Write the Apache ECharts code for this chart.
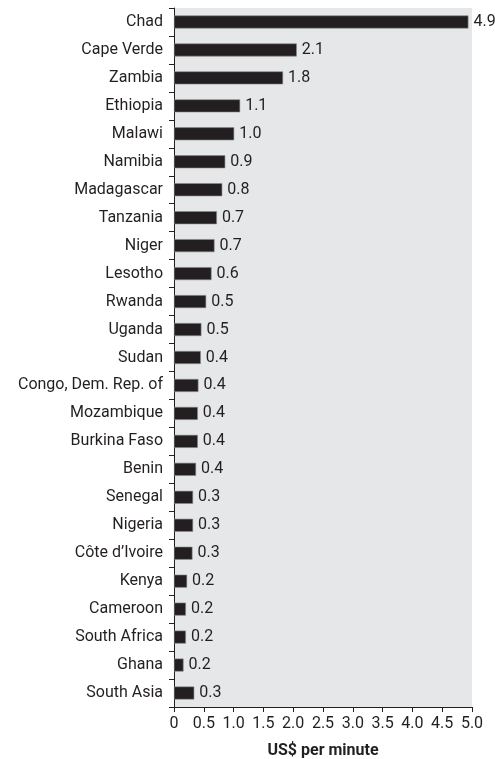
<!DOCTYPE html>
<html>
<head>
<meta charset="utf-8">
<script src="https://cdn.jsdelivr.net/npm/echarts@6/dist/echarts.min.js"></script>
<style>
  html, body { margin: 0; padding: 0; background: #fff; }
  #chart { width: 495px; height: 759px; }
</style>
</head>
<body>
<div id="chart"></div>
<script>
// categories, top to bottom
var countries = ['Chad', 'Cape Verde', 'Zambia', 'Ethiopia', 'Malawi', 'Namibia',
  'Madagascar', 'Tanzania', 'Niger', 'Lesotho', 'Rwanda', 'Uganda', 'Sudan',
  'Congo, Dem. Rep. of', 'Mozambique', 'Burkina Faso', 'Benin', 'Senegal',
  'Nigeria', 'C\u00f4te d\u2019Ivoire', 'Kenya', 'Cameroon', 'South Africa',
  'Ghana', 'South Asia'];
// bar lengths
var costs = [4.94, 2.06, 1.83, 1.11, 1.01, 0.86, 0.81, 0.72, 0.68, 0.63, 0.54,
  0.46, 0.45, 0.41, 0.40, 0.40, 0.37, 0.32, 0.32, 0.31, 0.22, 0.20, 0.20, 0.16, 0.34];
// printed labels
var costLabels = ['4.9', '2.1', '1.8', '1.1', '1.0', '0.9', '0.8', '0.7', '0.7',
  '0.6', '0.5', '0.5', '0.4', '0.4', '0.4', '0.4', '0.4', '0.3', '0.3', '0.3',
  '0.2', '0.2', '0.2', '0.2', '0.3'];

var font = 'Roboto, "Liberation Sans", sans-serif';
var chart = echarts.init(document.getElementById('chart'));

chart.setOption({
  animation: false,
  grid: {
    left: 174, right: 23, top: 8, bottom: 52,
    outerBoundsMode: 'none', containLabel: false,
    show: true, backgroundColor: '#e6e7e8', borderWidth: 0
  },
  xAxis: {
    type: 'value', min: 0, max: 5, interval: 0.5,
    name: 'US$ per minute', nameLocation: 'middle', nameGap: 36,
    nameTextStyle: { fontFamily: font, fontSize: 16, fontWeight: 'bold', color: '#231f20' },
    axisLine: { show: true, lineStyle: { color: '#231f20', width: 1 } },
    axisTick: { show: true, length: 5, lineStyle: { color: '#231f20' } },
    splitLine: { show: false },
    axisLabel: {
      fontFamily: font, fontSize: 16, color: '#231f20', margin: 9,
      formatter: function (v) { return v === 0 ? '0' : v.toFixed(1); }
    }
  },
  yAxis: {
    type: 'category', inverse: true, data: countries,
    axisLine: { show: true, lineStyle: { color: '#231f20', width: 1 } },
    axisTick: { show: true, length: 5, lineStyle: { color: '#231f20' } },
    axisLabel: { fontFamily: font, fontSize: 16, color: '#231f20', margin: 11 }
  },
  series: [{
    type: 'bar', data: costs, barWidth: 13,
    itemStyle: { color: '#231f20', borderColor: '#8a8a8a', borderWidth: 0.6 },
    label: {
      show: true, position: 'right', distance: 5,
      fontFamily: font, fontSize: 16, color: '#231f20',
      formatter: function (p) { return costLabels[p.dataIndex]; }
    }
  }]
});
</script>
</body>
</html>
